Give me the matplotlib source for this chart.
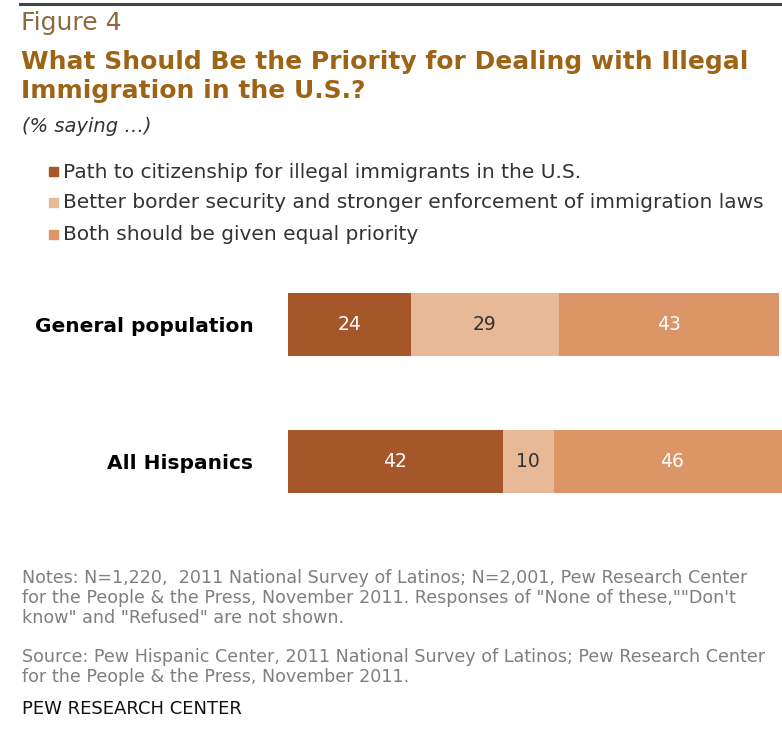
import matplotlib.pyplot as plt
import numpy as np

groups = ["General population", "All Hispanics"]
series_names = [
    "Path to citizenship for illegal immigrants in the U.S.",
    "Better border security and stronger enforcement of immigration laws",
    "Both should be given equal priority",
]
path_vals = [24, 42]
border_vals = [29, 10]
both_vals = [43, 46]

colors = ["#A5572A", "#E8B996", "#DB9566"]
label_colors = ["white", "#333333", "white"]

plt.rcParams["font.family"] = ["DejaVu Sans"]

W, H = 782, 735
fig = plt.figure(figsize=(W / 100, H / 100), dpi=100)


def fx(px):
    return px / W


def fy(py):
    return 1 - py / H


# header
fig.add_artist(plt.Line2D([fx(20), 1], [fy(4), fy(4)], color="#444444", lw=2.2))
fig.text(fx(21), fy(23), "Figure 4", fontsize=18, color="#8C6A3C", va="center")
fig.text(fx(21), fy(62), "What Should Be the Priority for Dealing with Illegal",
         fontsize=18, fontweight="bold", color="#9C6414", va="center")
fig.text(fx(21), fy(91), "Immigration in the U.S.?",
         fontsize=18, fontweight="bold", color="#9C6414", va="center")
fig.text(fx(22), fy(126), "(% saying \u2026)", fontsize=14, style="italic",
         color="#333333", va="center")

# legend
leg_y = [172, 203, 235]
for name, c, yy in zip(series_names, colors, leg_y):
    fig.patches.append(plt.Rectangle((fx(49), fy(yy + 4)), fx(9), 9 / H,
                                     transform=fig.transFigure, color=c))
    fig.text(fx(63), fy(yy), name, fontsize=14.5, color="#333333", va="center")

# bars
ax = fig.add_axes([fx(288), fy(530), 1 - fx(288), 274 / H])
y = np.array([1, 0])
left = np.zeros(2)
for vals, c, tc in zip([path_vals, border_vals, both_vals], colors, label_colors):
    ax.barh(y, vals, left=left, height=0.46, color=c)
    for yi, l, v in zip(y, left, vals):
        ax.text(l + v / 2, yi, str(v), ha="center", va="center",
                fontsize=13.5, color=tc)
    left = left + np.array(vals)

ax.set_xlim(0, 96.6)
ax.set_ylim(-0.5, 1.5)
ax.set_yticks(y)
ax.set_yticklabels(groups, fontsize=14.5, fontweight="bold")
ax.tick_params(axis="y", length=0, pad=25)
ax.set_xticks([])
for s in ax.spines.values():
    s.set_visible(False)

# notes
note_color = "#7F7F7F"
notes = [
    (578, "Notes: N=1,220,  2011 National Survey of Latinos; N=2,001, Pew Research Center"),
    (598, "for the People & the Press, November 2011. Responses of \"None of these,\"\"Don't"),
    (618, "know\" and \"Refused\" are not shown."),
    (657, "Source: Pew Hispanic Center, 2011 National Survey of Latinos; Pew Research Center"),
    (677, "for the People & the Press, November 2011."),
]
for yy, t in notes:
    fig.text(fx(22), fy(yy), t, fontsize=12.6, color=note_color, va="center")
fig.text(fx(22), fy(709), "PEW RESEARCH CENTER", fontsize=13, color="#111111",
         va="center")

fig.savefig("out.png", dpi=100)
